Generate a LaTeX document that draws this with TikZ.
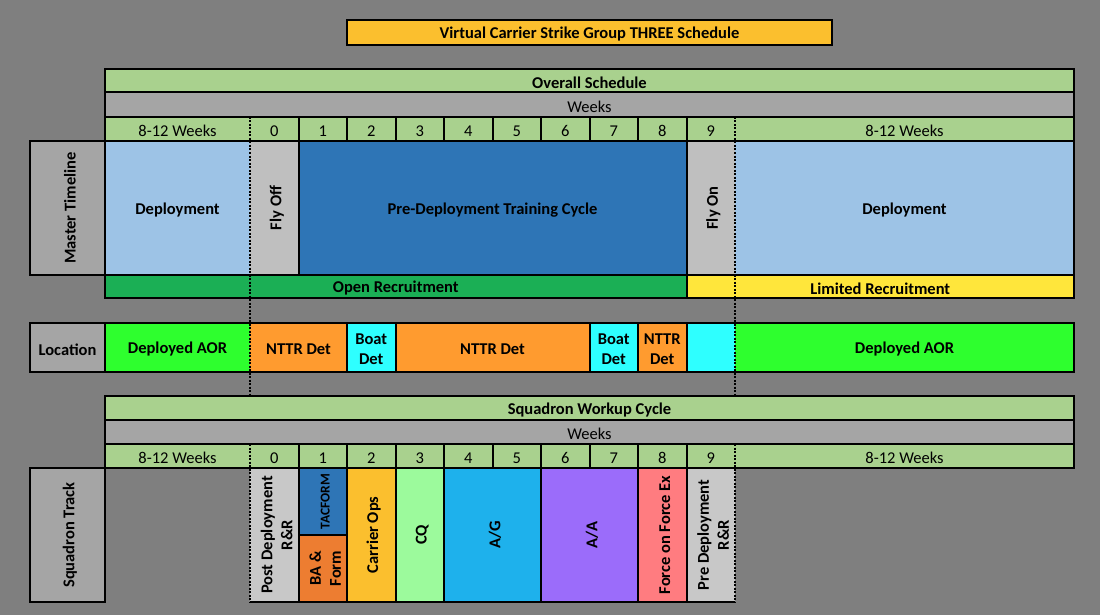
\documentclass[tikz,border=0pt]{standalone}
\usepackage{fontspec}
\setmainfont{Carlito}
\usepackage{tikz}
\usetikzlibrary{fit}

\definecolor{bggrey}{HTML}{7F7F7F}
\definecolor{titlegold}{HTML}{FBBF2E}
\definecolor{hdrgreen}{HTML}{A9D18E}
\definecolor{wkgrey}{HTML}{A5A5A5}
\definecolor{deplblue}{HTML}{9DC3E6}
\definecolor{flygrey}{HTML}{BFBFBF}
\definecolor{trainblue}{HTML}{2E75B6}
\definecolor{opengreen}{HTML}{1BAF55}
\definecolor{limyellow}{HTML}{FFE63B}
\definecolor{aorgreen}{HTML}{2EFF2E}
\definecolor{nttrorange}{HTML}{FF9B2F}
\definecolor{boatcyan}{HTML}{2EFFFF}
\definecolor{rrgrey}{HTML}{C8C8C8}
\definecolor{baorange}{HTML}{ED7D31}
\definecolor{cqgreen}{HTML}{9CFA9C}
\definecolor{agblue}{HTML}{1EB1EC}
\definecolor{aapurple}{HTML}{9B6CFA}
\definecolor{fofred}{HTML}{FF7C80}

\begin{document}
\begin{tikzpicture}[
  x=1pt, y=-1pt,
  cell/.style={inner sep=0pt, outer sep=0pt},
  lbl/.style={inner sep=0pt, align=center, font=\fontsize{16.5}{20}\selectfont\bfseries},
  txt/.style={lbl, yshift=-2pt},
  wktxt/.style={txt, font=\fontsize{16.5}{20}\selectfont},
  rot/.style={lbl, xshift=2.5pt, rotate=90},
  border/.style={line width=2pt, black},
  dotline/.style={line width=1.2pt, black, dash pattern=on 2pt off 1.5pt}
]
\fill[bggrey] (0,0) rectangle (1100,615);
\useasboundingbox (0,0) rectangle (1100,615);

% title
\node[cell, fill=titlegold, fit={(347,20) (832,45)}, label={[txt]center:Virtual Carrier Strike Group THREE Schedule}] (title) {};

% overall schedule
\node[cell, fill=hdrgreen, fit={(105,69) (1074,92)}, label={[txt]center:Overall Schedule}] (overall) {};
\node[cell, fill=wkgrey, fit={(105,92) (1074,117)}, label={[wktxt]center:Weeks}] (weeks) {};
\node[cell, fill=hdrgreen, fit={(105,117) (250,141)}, label={[wktxt]center:8-12 Weeks}] (predur) {};
\foreach \n in {0,...,9}{
  \pgfmathsetmacro\xa{250+48.5*\n}
  \pgfmathsetmacro\xb{\xa+48.5}
  \node[cell, fill=hdrgreen, fit={(\xa,117) (\xb,141)}, label={[wktxt]center:\n}] (top\n) {};
}
\node[cell, fill=hdrgreen, fit={(735,117) (1074,141)}, label={[wktxt]center:8-12 Weeks}] (postdur) {};
\node[cell, fill=wkgrey, fit={(30,141) (105,275)}, label={[rot]center:Master Timeline}] (master) {};
\node[cell, fill=deplblue, fit={(105,141) (250,275)}, label={[txt]center:Deployment}] (deploy1) {};
\node[cell, fill=flygrey, fit={(250,141) (298.5,275)}, label={[rot]center:Fly Off}] (flyoff) {};
\node[cell, fill=trainblue, fit={(298.5,141) (686.5,275)}, label={[txt]center:Pre-Deployment Training Cycle}] (train) {};
\node[cell, fill=flygrey, fit={(686.5,141) (735,275)}, label={[rot]center:Fly On}] (flyon) {};
\node[cell, fill=deplblue, fit={(735,141) (1074,275)}, label={[txt]center:Deployment}] (deploy2) {};
\node[cell, fill=opengreen, fit={(105,275) (686.5,298)}, label={[txt]center:Open Recruitment}] (open) {};
\node[cell, fill=limyellow, fit={(686.5,275) (1074,298)}, label={[txt]center:Limited Recruitment}] (limited) {};

% location
\node[cell, fill=wkgrey, fit={(30,323) (105,372)}, label={[txt]center:Location}] (loc) {};
\node[cell, fill=aorgreen, fit={(105,323) (250,372)}, label={[txt]center:Deployed AOR}] (aor1) {};
\node[cell, fill=nttrorange, fit={(250,323) (347,372)}, label={[txt]center:NTTR Det}] (nttr1) {};
\node[cell, fill=boatcyan, fit={(347,323) (395.5,372)}, label={[txt]center:{Boat\\Det}}] (boat1) {};
\node[cell, fill=nttrorange, fit={(395.5,323) (589.5,372)}, label={[txt]center:NTTR Det}] (nttr2) {};
\node[cell, fill=boatcyan, fit={(589.5,323) (638,372)}, label={[txt]center:{Boat\\Det}}] (boat2) {};
\node[cell, fill=nttrorange, fit={(638,323) (686.5,372)}, label={[txt]center:{NTTR\\Det}}] (nttr3) {};
\node[cell, fill=boatcyan, fit={(686.5,323) (735,372)}] (boat3) {};
\node[cell, fill=aorgreen, fit={(735,323) (1074,372)}, label={[txt]center:Deployed AOR}] (aor2) {};

% squadron workup
\node[cell, fill=hdrgreen, fit={(105,396) (1074,420)}, label={[txt]center:Squadron Workup Cycle}] (workup) {};
\node[cell, fill=wkgrey, fit={(105,420) (1074,444)}, label={[wktxt]center:Weeks}] (sqweeks) {};
\node[cell, fill=hdrgreen, fit={(105,444) (250,468)}, label={[wktxt]center:8-12 Weeks}] (sqpredur) {};
\foreach \n in {0,...,9}{
  \pgfmathsetmacro\xa{250+48.5*\n}
  \pgfmathsetmacro\xb{\xa+48.5}
  \node[cell, fill=hdrgreen, fit={(\xa,444) (\xb,468)}, label={[wktxt]center:\n}] (sq\n) {};
}
\node[cell, fill=hdrgreen, fit={(735,444) (1074,468)}, label={[wktxt]center:8-12 Weeks}] (sqpostdur) {};
\node[cell, fill=wkgrey, fit={(30,468) (105,602)}, label={[rot]center:Squadron Track}] (track) {};
\node[cell, fill=rrgrey, fit={(250,468) (298.5,602)}, label={[rot]center:{Post Deployment\\R\&R}}] (postrr) {};
\node[cell, fill=trainblue, fit={(298.5,468) (347,535)}, label={[rot, font=\fontsize{13.5}{16}\selectfont\bfseries]center:TACFORM}] (tacform) {};
\node[cell, fill=baorange, fit={(298.5,535) (347,602)}, label={[rot]center:{BA \&\\Form}}] (baform) {};
\node[cell, fill=titlegold, fit={(347,468) (395.5,602)}, label={[rot]center:Carrier Ops}] (carrier) {};
\node[cell, fill=cqgreen, fit={(395.5,468) (444,602)}, label={[rot]center:CQ}] (cq) {};
\node[cell, fill=agblue, fit={(444,468) (541,602)}, label={[rot]center:A/G}] (ag) {};
\node[cell, fill=aapurple, fit={(541,468) (638,602)}, label={[rot]center:A/A}] (aa) {};
\node[cell, fill=fofred, fit={(638,468) (686.5,602)}, label={[rot]center:Force on Force Ex}] (fof) {};
\node[cell, fill=rrgrey, fit={(686.5,468) (735,602)}, label={[rot]center:{Pre Deployment\\R\&R}}] (prerr) {};

% dotted week limits
\foreach \x in {250,735}{
  \draw[dotline] (\x,117) -- (\x,396);
  \draw[dotline] (\x,444) -- (\x,602);
}

% rules
\draw[border] (title.north west) rectangle (title.south east);
\draw[border] (105,69) rectangle (1074,298);
\draw[border] (30,141) rectangle (105,275);
\foreach \y in {92,117,141,275} \draw[border] (105,\y) -- (1074,\y);
\foreach \n in {1,...,9} \draw[border] ({250+48.5*\n},117) -- ++(0,24);
\draw[border] (298.5,141) -- (298.5,275);
\draw[border] (686.5,141) -- (686.5,298);

\draw[border] (30,323) rectangle (1074,372);
\foreach \x in {105,347,395.5,589.5,638,686.5} \draw[border] (\x,323) -- (\x,372);

\draw[border] (105,396) rectangle (1074,468);
\foreach \y in {420,444} \draw[border] (105,\y) -- (1074,\y);
\foreach \n in {1,...,9} \draw[border] ({250+48.5*\n},444) -- ++(0,24);
\draw[border] (30,468) rectangle (105,602);
\draw[border] (250,602) -- (735,602);
\foreach \x in {298.5,347,395.5,444,541,638,686.5} \draw[border] (\x,468) -- (\x,602);
\draw[border] (298.5,535) -- (347,535);
\end{tikzpicture}
\end{document}
